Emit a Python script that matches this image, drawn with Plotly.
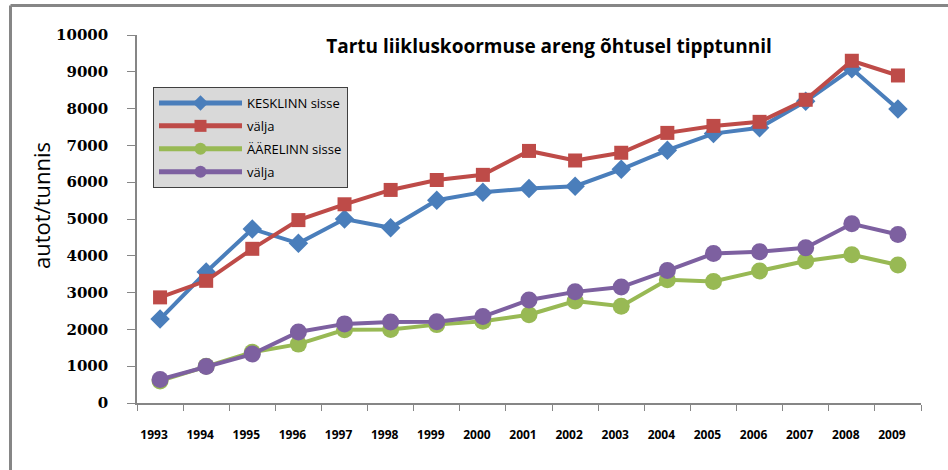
import plotly.graph_objects as go

years = [str(y) for y in range(1993, 2010)]

kesklinn_sisse = [2280, 3560, 4730, 4340, 5000, 4760, 5510, 5730, 5830, 5890, 6350, 6870, 7320, 7480, 8200, 9080, 7990]
kesklinn_valja = [2870, 3320, 4190, 4970, 5400, 5790, 6060, 6200, 6850, 6590, 6800, 7340, 7530, 7640, 8240, 9300, 8900]
aarelinn_sisse = [600, 1000, 1380, 1600, 1990, 2000, 2130, 2220, 2400, 2770, 2630, 3350, 3300, 3590, 3860, 4030, 3750]
aarelinn_valja = [640, 990, 1330, 1930, 2150, 2200, 2210, 2350, 2800, 3020, 3150, 3600, 4060, 4110, 4220, 4870, 4580]

series_names = ['KESKLINN sisse', 'välja', 'ÄÄRELINN sisse', 'välja']
colors = ['#4a7ebb', '#be4b48', '#98b954', '#7d60a0']
symbols = ['diamond', 'square', 'circle', 'circle']
sizes = [15, 14, 17, 17]

W, H = 948, 470
PL, PR, PT, PB = 137, 921, 35, 403   # plot area in pixels


def px(x):
    return (x - PL) / (PR - PL)


def py(y):
    return (PB - y) / (PB - PT)


fig = go.Figure()
for i, (vals, name, c, s, sz) in enumerate(zip(
        [kesklinn_sisse, kesklinn_valja, aarelinn_sisse, aarelinn_valja],
        series_names, colors, symbols, sizes)):
    fig.add_trace(go.Scatter(
        x=years,
        y=vals,
        mode='lines+markers',
        name=name,
        legendgroup='g%d' % i,
        line=dict(color=c, width=4),
        marker=dict(symbol=s, size=sz, color=c),
    ))

fig.add_annotation(
    text='autot/tunnis', textangle=-90, showarrow=False,
    xref='paper', yref='paper', x=px(41), y=py(206),
    xanchor='center', yanchor='middle',
    font=dict(family='Open Sans', size=22, color='black'),
)

fig.update_layout(
    width=W, height=H,
    margin=dict(l=PL, r=W - PR, t=PT, b=H - PB, autoexpand=False),
    paper_bgcolor='white',
    plot_bgcolor='white',
    font=dict(family='Open Sans', color='black'),
    showlegend=True,
    title=dict(
        text='<b>Tartu liikluskoormuse areng õhtusel tipptunnil</b>',
        font=dict(family='Open Sans', size=19, color='black'),
        x=px(549), xanchor='center', xref='paper',
        y=1 - 46 / H, yanchor='middle', yref='container',
    ),
    legend=dict(
        x=px(153), y=py(87), xanchor='left', yanchor='top',
        bgcolor='#d9d9d9', bordercolor='#404040', borderwidth=1,
        font=dict(family='Open Sans', size=13, color='black'),
        itemwidth=83, tracegroupgap=3,
        itemsizing='constant',
    ),
    xaxis=dict(
        type='category', automargin=False, range=[-0.5, 16.5],
        showgrid=False,
        showline=True, linecolor='#868686', linewidth=1.5,
        ticks='outside', tickson='boundaries', ticklen=6, tickcolor='#868686',
        tickfont=dict(family='Open Sans', size=12, color='black', weight='bold'),
        ticklabelstandoff=20, ticklabelshift=-6,
    ),
    yaxis=dict(
        range=[0, 10000], dtick=1000, tickformat='d', automargin=False,
        showgrid=False, zeroline=False,
        showline=True, linecolor='#868686', linewidth=1.5,
        ticks='outside', ticklen=8, tickcolor='#868686',
        tickfont=dict(family='DejaVu Serif', size=15, color='black', weight='bold'),
        ticklabelstandoff=16,
    ),
    shapes=[
        dict(type='line', xref='paper', yref='paper',
             x0=px(10.5), x1=px(960), y0=py(5.5), y1=py(5.5),
             line=dict(color='#868686', width=3)),
        dict(type='line', xref='paper', yref='paper',
             x0=px(10.5), x1=px(10.5), y0=py(5.5), y1=py(480),
             line=dict(color='#868686', width=3)),
    ],
)

# drop the browser's default 8px body margin so the figure sits at the page corner
fig.write_html("out.html", config={'displayModeBar': False},
               post_script="document.body.style.margin='0';")
